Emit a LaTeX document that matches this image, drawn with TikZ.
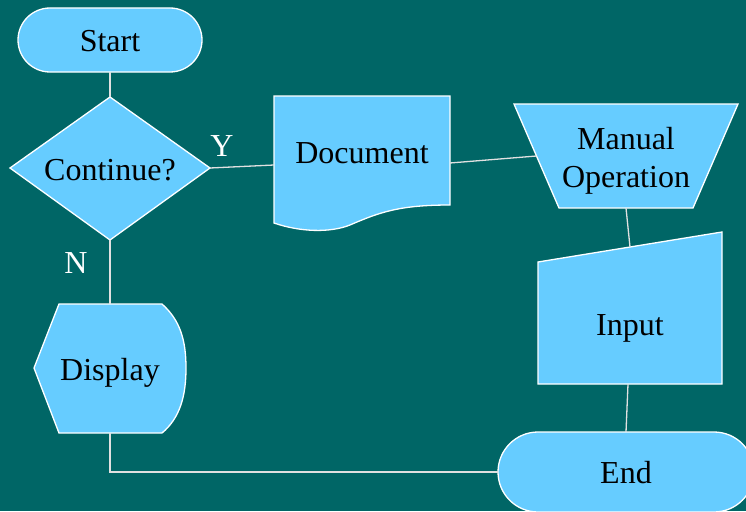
\documentclass[tikz,border=0pt]{standalone}
\usepackage{fontspec}
\setmainfont{Liberation Serif}
\definecolor{bgteal}{RGB}{0,102,102}
\definecolor{boxblue}{RGB}{102,204,255}
\definecolor{linegray}{RGB}{225,225,225}
\begin{document}
\begin{tikzpicture}[x=1pt,y=-1pt,
  shapebox/.style={fill=boxblue,draw=white,line width=1.3pt},
  conn/.style={draw=linegray,line width=1.3pt},
  lbl/.style={font=\fontsize{32}{38}\selectfont,text=black,anchor=base,inner sep=0pt},
  wlbl/.style={font=\fontsize{32}{38}\selectfont,text=white,anchor=base,inner sep=0pt}]
\fill[bgteal] (0,0) rectangle (746,511);
\useasboundingbox (0,0) rectangle (746,511);
% Start
\draw[shapebox,rounded corners=32pt] (18,8) rectangle (202,72);
\node[lbl] (start) at (110,52) {Start};
\coordinate (start-s) at (110,72);
% Decision
\draw[shapebox] (110,97) -- (210,168) -- (110,240) -- (10,168) -- cycle;
\node[lbl] (cont) at (110,180) {Continue?};
\coordinate (dia-n) at (110,97);
\coordinate (dia-e) at (210,168);
\coordinate (dia-s) at (110,240);
% Document
\draw[shapebox] (274,96) -- (450,96) -- (450,205)
  .. controls (400,205) and (380,212) .. (350,225)
  .. controls (330,233) and (300,232) .. (274,223) -- cycle;
\node[lbl] (doc) at (362,163) {Document};
\coordinate (doc-w) at (274,165);
\coordinate (doc-e) at (450,163);
% Manual operation
\draw[shapebox] (514,104) -- (738,104) -- (693,208) -- (559,208) -- cycle;
\node[lbl] (man1) at (626,149) {Manual};
\node[lbl] (man2) at (626,187) {Operation};
\coordinate (man-w) at (536.5,156);
\coordinate (man-s) at (626,208);
% Input
\draw[shapebox] (538,262) -- (722,232) -- (722,384) -- (538,384) -- cycle;
\node[lbl] (inp) at (630,335) {Input};
\coordinate (inp-n) at (630,247);
\coordinate (inp-s) at (628,384);
% Display
\draw[shapebox] (59,304) -- (162,304)
  .. controls (180,320) and (186,340) .. (186,368)
  .. controls (186,396) and (180,418) .. (162,433)
  -- (59,433) -- (34,368) -- cycle;
\node[lbl] (disp) at (110,380) {Display};
\coordinate (disp-n) at (110,304);
\coordinate (disp-s) at (110,433);
% End
\draw[shapebox,rounded corners=40pt] (498,432) rectangle (754,512);
\node[lbl] (endn) at (626,483) {End};
\coordinate (end-n) at (626,432);
\coordinate (end-w) at (498,472);
% Labels
\node[wlbl] (ylbl) at (222,156) {Y};
\node[wlbl] (nlbl) at (76,273) {N};
% Connectors
\draw[conn] (start-s) -- (dia-n);
\draw[conn] (dia-e) -- (doc-w);
\draw[conn] (doc-e) -- (man-w);
\draw[conn] (man-s) -- (inp-n);
\draw[conn] (inp-s) -- (end-n);
\draw[conn] (dia-s) -- (disp-n);
\draw[conn] (disp-s) |- (end-w);
\end{tikzpicture}
\end{document}
